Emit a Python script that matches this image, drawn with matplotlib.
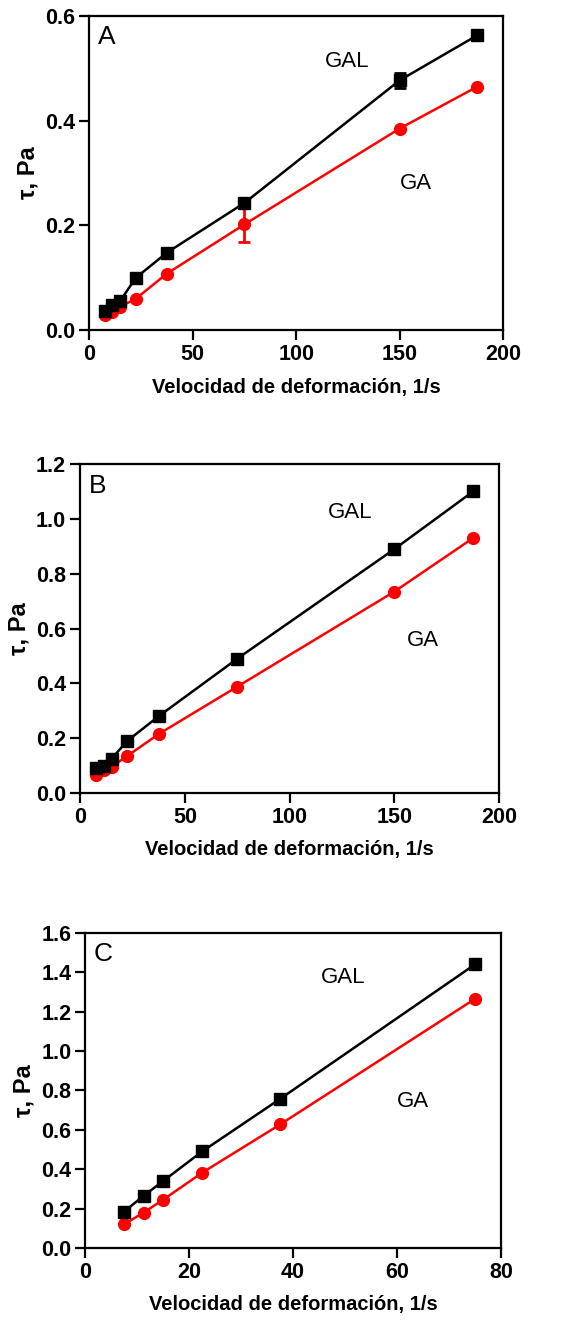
import matplotlib
matplotlib.use("Agg")
import matplotlib.pyplot as plt

plt.rcParams['font.family'] = ['Liberation Sans', 'DejaVu Sans']

# Shear rates (1/s)
rate_ab = [7.5, 11.25, 15, 22.5, 37.5, 75, 150, 187.5]
rate_c = [7.5, 11.25, 15, 22.5, 37.5, 75]

# Panel A
a_gal = [0.037, 0.048, 0.056, 0.100, 0.148, 0.243, 0.477, 0.563]
a_gal_err = [0, 0, 0, 0, 0, 0.010, 0.014, 0]
a_ga = [0.030, 0.035, 0.045, 0.060, 0.108, 0.202, 0.385, 0.465]
a_ga_err = [0, 0, 0, 0, 0, 0.034, 0, 0]

# Panel B
b_gal = [0.090, 0.100, 0.125, 0.190, 0.280, 0.490, 0.890, 1.100]
b_ga = [0.065, 0.085, 0.095, 0.135, 0.215, 0.388, 0.735, 0.930]

# Panel C
c_gal = [0.185, 0.265, 0.340, 0.490, 0.757, 1.440]
c_gal_err = [0, 0, 0, 0, 0, 0.025]
c_ga = [0.120, 0.180, 0.245, 0.382, 0.627, 1.265]

panels = [
    dict(letter="A", x=rate_ab, gal=a_gal, gal_err=a_gal_err, ga=a_ga, ga_err=a_ga_err,
         xlim=(0, 200), ylim=(0, 0.6), xticks=[0, 50, 100, 150, 200],
         yticks=[0.0, 0.2, 0.4, 0.6], gal_txt=(114, 0.512), ga_txt=(150, 0.281),
         rect=[0.157, 0.750, 0.729, 0.238]),
    dict(letter="B", x=rate_ab, gal=b_gal, gal_err=None, ga=b_ga, ga_err=None,
         xlim=(0, 200), ylim=(0, 1.2), xticks=[0, 50, 100, 150, 200],
         yticks=[0.0, 0.2, 0.4, 0.6, 0.8, 1.0, 1.2], gal_txt=(118, 1.025), ga_txt=(156, 0.558),
         rect=[0.141, 0.3997, 0.738, 0.249]),
    dict(letter="C", x=rate_c, gal=c_gal, gal_err=c_gal_err, ga=c_ga, ga_err=None,
         xlim=(0, 80), ylim=(0, 1.6), xticks=[0, 20, 40, 60, 80],
         yticks=[0.0, 0.2, 0.4, 0.6, 0.8, 1.0, 1.2, 1.4, 1.6], gal_txt=(45.4, 1.371), ga_txt=(60, 0.742),
         rect=[0.150, 0.0553, 0.732, 0.2385]),
]

fig = plt.figure(figsize=(5.68, 13.21), dpi=100)

for p in panels:
    ax = fig.add_axes(p["rect"])
    ax.errorbar(p["x"], p["ga"], yerr=p["ga_err"], color="#ff0000", marker="o", ms=8.5,
                lw=1.8, capsize=4, elinewidth=2, capthick=2, zorder=3)
    ax.errorbar(p["x"], p["gal"], yerr=p["gal_err"], color="black", marker="s", ms=8.5,
                lw=1.8, capsize=4, elinewidth=2, capthick=2, zorder=4)
    ax.set_xlim(*p["xlim"])
    ax.set_ylim(*p["ylim"])
    ax.set_xticks(p["xticks"])
    ax.set_yticks(p["yticks"])
    ax.set_yticklabels([f"{v:.1f}" for v in p["yticks"]])
    for s in ax.spines.values():
        s.set_linewidth(1.6)
    ax.tick_params(direction="out", length=7, width=1.6, labelsize=15.5, pad=3,
                   top=False, right=False)
    for lab in ax.get_xticklabels() + ax.get_yticklabels():
        lab.set_fontweight("bold")
    ax.set_xlabel("Velocidad de deformación, 1/s", fontsize=14.5, fontweight="bold", labelpad=9)
    ax.set_ylabel("τ, Pa", fontsize=17, fontweight="bold", labelpad=4)
    ax.text(0.02, 0.97, p["letter"], transform=ax.transAxes, fontsize=19,
            ha="left", va="top")
    ax.text(p["gal_txt"][0], p["gal_txt"][1], "GAL", fontsize=16, ha="left", va="center")
    ax.text(p["ga_txt"][0], p["ga_txt"][1], "GA", fontsize=16, ha="left", va="center")

fig.savefig("out.png", dpi=100)
